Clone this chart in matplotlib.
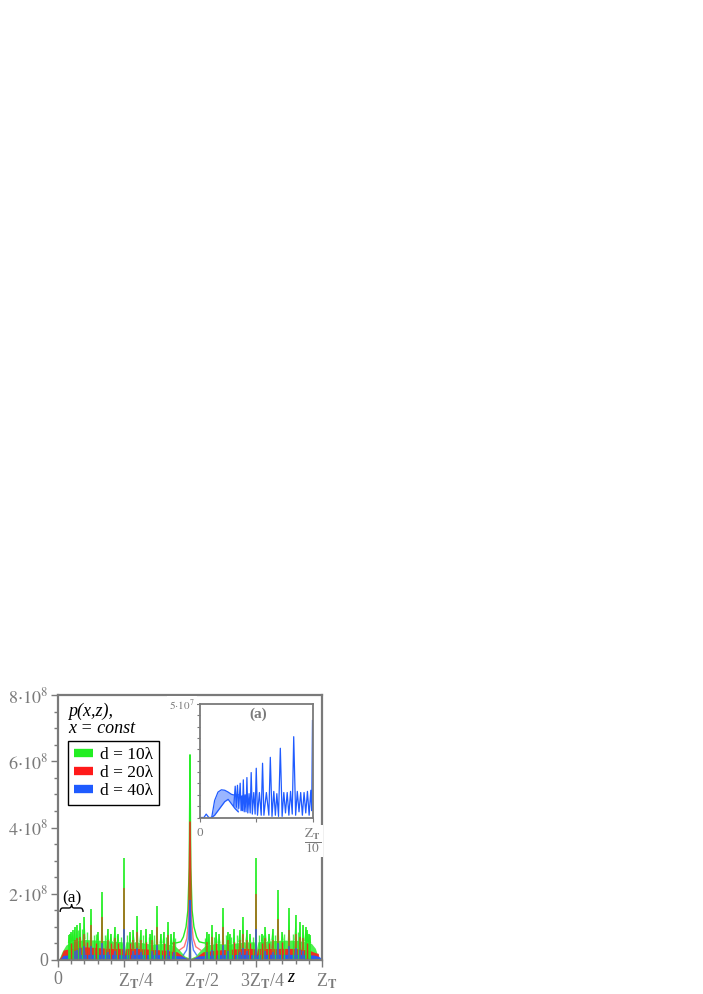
import numpy as np
import matplotlib.pyplot as plt
from matplotlib.lines import Line2D
from matplotlib.path import Path
from matplotlib.patches import PathPatch
from matplotlib.ticker import MultipleLocator

plt.rcParams['font.family'] = ['Liberation Serif', 'DejaVu Serif']
plt.rcParams['mathtext.fontset'] = 'stix'

GRAY = '#7a7a7a'
GREEN = '#22ee22'
RED = '#ff1a1a'
BLUE = '#1f5bff'

# main plot: z in units of Z_T, p in units of 1e8
# d = 10 lambda
g_peak_z = [0.0417, 0.0455, 0.05, 0.0556, 0.0625, 0.0714, 0.0833, 0.1, 0.125, 0.15,
            0.1667, 0.1875, 0.2, 0.2143, 0.2273, 0.25, 0.2727, 0.2857, 0.3, 0.3125,
            0.3333, 0.35, 0.3571, 0.375, 0.3889, 0.4, 0.4167, 0.4286, 0.4375, 0.5,
            0.5625, 0.5714, 0.5833, 0.6, 0.6111, 0.625, 0.6429, 0.65, 0.6667, 0.6875,
            0.7, 0.7143, 0.7273, 0.75, 0.7727, 0.7857, 0.8, 0.8125, 0.8333, 0.85,
            0.875, 0.9, 0.9167, 0.9286, 0.9375, 0.9444, 0.95, 0.9545]
g_peak_p = [0.75, 0.8, 0.85, 0.9, 1.0, 1.05, 1.12, 1.3, 1.53, 0.85,
            2.06, 0.95, 0.8, 1.0, 0.8, 3.07, 0.85, 0.9, 1.33, 0.9,
            0.95, 0.8, 0.9, 1.63, 0.8, 0.85, 1.15, 0.8, 0.85, 6.2,
            0.85, 0.8, 1.06, 0.85, 0.8, 1.58, 0.85, 0.8, 0.95, 0.9,
            1.29, 0.9, 0.8, 3.07, 0.8, 1.0, 0.8, 0.95, 2.1, 0.85,
            1.58, 1.36, 1.15, 1.05, 1.0, 0.9, 0.8, 0.75]
g_minor_z = [0.0769, 0.0909, 0.1111, 0.1364, 0.1429, 0.1765, 0.2222, 0.2381, 0.2619, 0.3214,
             0.3462, 0.3636, 0.4091, 0.4444, 0.5556, 0.5909, 0.6364, 0.6538, 0.6786, 0.7381,
             0.7619, 0.7778, 0.8235, 0.8571, 0.8889, 0.9091]
g_minor_p = [0.9, 0.95, 0.85, 0.75, 0.8, 0.75, 0.75, 0.7, 0.75, 0.75,
             0.7, 0.75, 0.7, 0.65, 0.65, 0.7, 0.75, 0.7, 0.75, 0.7,
             0.75, 0.75, 0.75, 0.8, 0.8, 0.85]
g_band_z = [0, 0.005, 0.015, 0.03, 0.05, 0.1, 0.15, 0.2, 0.243, 0.25,
            0.257, 0.3, 0.35, 0.4, 0.44, 0.46, 0.48, 0.5, 0.52, 0.54,
            0.56, 0.6, 0.65, 0.7, 0.743, 0.75, 0.757, 0.8, 0.85, 0.9,
            0.94, 0.96, 0.975, 0.985, 0.99, 1.0]
g_band_p = [0, 0.05, 0.25, 0.45, 0.55, 0.62, 0.6, 0.58, 0.55, 0.2,
            0.55, 0.55, 0.48, 0.5, 0.45, 0.3, 0.12, 0.05, 0.12, 0.3,
            0.45, 0.5, 0.48, 0.55, 0.55, 0.2, 0.55, 0.58, 0.6, 0.6,
            0.55, 0.5, 0.35, 0.1, 0.0, 0.0]
g_flank_z = [0.43, 0.45, 0.465, 0.475, 0.485, 0.492, 0.497, 0.5, 0.503, 0.508, 0.515, 0.525, 0.535, 0.55, 0.57]
g_flank_p = [0.5, 0.52, 0.55, 0.7, 1.0, 1.5, 2.8, 6.2, 2.8, 1.5, 1.0, 0.7, 0.55, 0.52, 0.5]

# d = 20 lambda
r_peak_z = [0.0625, 0.0714, 0.0833, 0.1, 0.125, 0.1667, 0.1875, 0.2143, 0.25, 0.2857,
            0.3, 0.3125, 0.3571, 0.375, 0.4167, 0.4375, 0.5, 0.5625, 0.5833, 0.625,
            0.6429, 0.6875, 0.7, 0.7143, 0.75, 0.7857, 0.8125, 0.8333, 0.875, 0.9,
            0.9167, 0.9286]
r_peak_p = [0.6, 0.65, 0.7, 0.8, 1.05, 1.31, 0.6, 0.65, 2.16, 0.6,
            0.85, 0.6, 0.6, 1.0, 0.75, 0.55, 4.18, 0.55, 0.7, 1.0,
            0.6, 0.6, 0.8, 0.6, 2.0, 0.65, 0.6, 1.25, 0.9, 0.8,
            0.7, 0.65]
r_minor_z = [0.05, 0.1111, 0.1429, 0.2, 0.2273, 0.2727, 0.3333, 0.4, 0.6, 0.6667,
             0.7273, 0.7727, 0.8, 0.85, 0.9444]
r_minor_p = [0.5, 0.55, 0.5, 0.5, 0.5, 0.5, 0.55, 0.5, 0.5, 0.55,
             0.5, 0.5, 0.5, 0.55, 0.5]
r_band_z = [0, 0.01, 0.02, 0.05, 0.1, 0.2, 0.243, 0.25, 0.257, 0.3,
            0.4, 0.45, 0.48, 0.5, 0.52, 0.55, 0.6, 0.7, 0.743, 0.75,
            0.757, 0.8, 0.9, 0.95, 0.975, 0.986, 0.99, 1.0]
r_band_p = [0, 0.1, 0.3, 0.35, 0.4, 0.35, 0.35, 0.1, 0.35, 0.35,
            0.3, 0.25, 0.08, 0.03, 0.08, 0.25, 0.3, 0.35, 0.35, 0.1,
            0.35, 0.35, 0.35, 0.3, 0.22, 0.2, 0.0, 0.0]
r_flank_z = [0.46, 0.478, 0.488, 0.494, 0.5, 0.506, 0.512, 0.522, 0.54]
r_flank_p = [0.3, 0.4, 0.65, 1.2, 4.18, 1.2, 0.65, 0.4, 0.3]

# d = 40 lambda
b_peak_z = [0.0625, 0.0714, 0.0833, 0.1, 0.125, 0.1667, 0.1875, 0.2143, 0.25, 0.2857,
            0.3, 0.3125, 0.3571, 0.375, 0.4167, 0.4375, 0.5, 0.5625, 0.5833, 0.625,
            0.6429, 0.6875, 0.7, 0.7143, 0.75, 0.7857, 0.8125, 0.8333, 0.875, 0.9,
            0.9167, 0.9286]
b_peak_p = [0.28, 0.3, 0.36, 0.43, 0.42, 0.5, 0.25, 0.28, 0.95, 0.28,
            0.35, 0.25, 0.28, 0.45, 0.3, 0.25, 1.8, 0.25, 0.3, 0.45,
            0.28, 0.25, 0.35, 0.28, 0.95, 0.28, 0.25, 0.5, 0.42, 0.35,
            0.3, 0.28]
b_band_z = [0, 0.01, 0.02, 0.05, 0.1, 0.2, 0.245, 0.25, 0.255, 0.3,
            0.4, 0.47, 0.49, 0.5, 0.51, 0.53, 0.6, 0.7, 0.745, 0.75,
            0.755, 0.8, 0.9, 0.97, 0.99, 1.0]
b_band_p = [0, 0.05, 0.14, 0.16, 0.17, 0.17, 0.16, 0.02, 0.16, 0.17,
            0.16, 0.12, 0.04, 0.0, 0.04, 0.12, 0.16, 0.17, 0.16, 0.02,
            0.16, 0.17, 0.17, 0.15, 0.1, 0.03]
b_flank_z = [0.475, 0.487, 0.494, 0.5, 0.506, 0.513, 0.525]
b_flank_p = [0.15, 0.3, 0.65, 1.8, 0.65, 0.3, 0.15]

# inset (a): d = 40 lambda, z from 0 to Z_T/10, p in units of 1e7
ins_start_z = [0, 0.0035, 0.0055, 0.0078, 0.0104]
ins_start_p = [0, 0, 0.15, 0.0, 0.0]
ins_hump_z = [0.0104, 0.013, 0.016, 0.019, 0.022, 0.025, 0.028, 0.031, 0.034]
ins_hump_top = [0.0, 0.75, 1.12, 1.22, 1.2, 1.12, 1.02, 0.98, 1.0]
ins_hump_bot = [0.0, 0.1, 0.3, 0.5, 0.7, 0.8, 0.6, 0.4, 0.25]
ins_osc_z = [0.03, 0.0313, 0.0323, 0.0333, 0.0345, 0.0357, 0.0365, 0.0372, 0.0378, 0.0385,
             0.0393, 0.0401, 0.0409, 0.0417, 0.0425, 0.0436, 0.0446, 0.0455, 0.0465, 0.0478,
             0.049, 0.05, 0.0511, 0.0528, 0.0544, 0.0556, 0.0568, 0.059, 0.0612, 0.0625,
             0.064, 0.0656, 0.067, 0.0683, 0.0698, 0.0714, 0.073, 0.0745, 0.076, 0.0775,
             0.079, 0.0805, 0.082, 0.0833, 0.085, 0.0865, 0.088, 0.0895, 0.091, 0.0925,
             0.094, 0.0955, 0.097, 0.0985, 0.0993, 0.1]
ins_osc_p = [0.5, 1.38, 0.45, 1.42, 0.4, 1.51, 0.3, 0.95, 0.3, 1.66,
             0.25, 1.0, 0.25, 1.76, 0.2, 1.05, 0.2, 1.98, 0.15, 1.1,
             0.15, 2.17, 0.1, 1.1, 0.1, 2.39, 0.1, 1.1, 0.1, 2.65,
             0.05, 1.15, 0.1, 1.05, 0.05, 3.05, 0.05, 1.1, 0.2, 1.1,
             0.1, 1.15, 0.15, 3.56, 0.1, 1.15, 0.25, 1.1, 0.1, 1.1,
             0.2, 1.15, 0.1, 1.2, 0.3, 4.27]

legend_labels = ['d = 10λ', 'd = 20λ', 'd = 40λ']
x_ticks = [0, 0.25, 0.5, 0.75, 1.0]
x_labels = ['0', 'Z$_\\mathbf{T}$/4', 'Z$_\\mathbf{T}$/2', '3Z$_\\mathbf{T}$/4', 'Z$_\\mathbf{T}$']
x_label_dx = [0, -4.3, -4.3, -11.5, -4.3]
y_ticks = [0, 2, 4, 6, 8]
y_labels = ['0', '$2{\\cdot}10^{8}$', '$4{\\cdot}10^{8}$', '$6{\\cdot}10^{8}$', '$8{\\cdot}10^{8}$']
brace_span = [0.008, 0.095]

fig = plt.figure(figsize=(7.03, 9.94), dpi=100)
ax = fig.add_axes([58 / 703, 34 / 994, 264 / 703, 265 / 994])
ax.set_xlim(0, 1)
ax.set_ylim(0, 8)

half_w = 0.0045
series = [
    (g_band_z, g_band_p, g_peak_z, g_peak_p, g_minor_z, g_minor_p, g_flank_z, g_flank_p, GREEN, 0.8, 1.0),
    (r_band_z, r_band_p, r_peak_z, r_peak_p, r_minor_z, r_minor_p, r_flank_z, r_flank_p, RED, 0.9, 0.6),
    (b_band_z, b_band_p, b_peak_z, b_peak_p, [], [], b_flank_z, b_flank_p, BLUE, 0.95, 0.75),
]
for bz, bp, pz, pp, mz, mp, fz, fp, col, band_a, spike_a in series:
    ax.fill_between(bz, 0, bp, color=col, alpha=band_a, lw=0)
    base = np.interp(pz, bz, bp)
    for z, p, b in zip(pz, pp, base):
        ax.fill([z - half_w, z, z + half_w], [b, p, b], color=col, alpha=spike_a, lw=0)
    ax.vlines(pz, 0, pp, color=col, alpha=spike_a, lw=1.2)
    if mz:
        ax.vlines(mz, 0, mp, color=col, alpha=band_a, lw=1.0)
    ax.plot(fz, fp, color=col, alpha=spike_a, lw=1.0)

for s in ax.spines.values():
    s.set_color(GRAY)
    s.set_linewidth(1.6)
ax.set_xticks(x_ticks)
ax.set_xticklabels([])
ax.set_yticks(y_ticks)
ax.set_yticklabels(y_labels)
ax.xaxis.set_minor_locator(MultipleLocator(0.05))
ax.yaxis.set_minor_locator(MultipleLocator(0.5))
ax.tick_params(which='both', direction='out', color=GRAY, labelcolor=GRAY, labelsize=13, width=1.0)
ax.tick_params(which='major', length=5)
ax.tick_params(which='minor', length=3)
ax.tick_params(axis='y', pad=2)
for z, lab, dx in zip(x_ticks, x_labels, x_label_dx):
    ax.annotate(lab, xy=(z, 0), xycoords=('data', 'axes fraction'), xytext=(dx, -8),
                textcoords='offset points', ha='center' if dx == 0 else 'left', va='top',
                fontsize=13, color=GRAY)

ax.text(0.038, 0.921, 'p(x,z),', transform=ax.transAxes, style='italic', fontsize=13)
ax.text(0.038, 0.857, 'x = const', transform=ax.transAxes, style='italic', fontsize=13)
ax.text(0.882, -0.083, 'z', transform=ax.get_xaxis_transform(), style='italic',
        fontsize=13, ha='center', va='baseline')

handles = [Line2D([], [], color=c, lw=6, solid_capstyle='butt') for c in (GREEN, RED, BLUE)]
leg = ax.legend(handles, legend_labels, loc='upper left', bbox_to_anchor=(0.038, 0.826),
                fontsize=12.5, handlelength=1.1, handletextpad=0.4, borderpad=0.35,
                labelspacing=0.1, borderaxespad=0, fancybox=False, framealpha=1)
leg.get_frame().set_edgecolor('black')
leg.get_frame().set_linewidth(1.0)

# brace over the inset range
x0, x1 = brace_span
xm = (x0 + x1) / 2
yb, ymid, yt = 1.45, 1.57, 1.68
verts = [(x0, yb), (x0, ymid), (x0 + 0.01, ymid), (xm - 0.01, ymid), (xm, ymid), (xm, yt),
         (xm, ymid), (xm + 0.01, ymid), (x1 - 0.01, ymid), (x1, ymid), (x1, yb)]
codes = [Path.MOVETO, Path.CURVE3, Path.CURVE3, Path.LINETO, Path.CURVE3, Path.CURVE3,
         Path.CURVE3, Path.CURVE3, Path.LINETO, Path.CURVE3, Path.CURVE3]
ax.add_patch(PathPatch(Path(verts, codes), fill=False, lw=1.0, color='black'))
ax.text(xm, 1.74, '(a)', fontsize=12.5, ha='center', va='baseline')

# inset
axi = fig.add_axes([200 / 703, (994 - 817.5) / 994, 112.5 / 703, 113.5 / 994])
axi.set_xlim(0, 0.1)
axi.set_ylim(0, 5)
axi.plot(ins_start_z, ins_start_p, color=BLUE, lw=0.9)
axi.fill_between(ins_hump_z, ins_hump_bot, ins_hump_top, color=BLUE, alpha=0.45, lw=0)
axi.plot(ins_hump_z, ins_hump_top, color=BLUE, lw=0.9)
axi.plot(ins_hump_z, ins_hump_bot, color=BLUE, lw=0.9)
axi.plot(ins_osc_z, ins_osc_p, color=BLUE, lw=0.9)
for s in axi.spines.values():
    s.set_color(GRAY)
    s.set_linewidth(1.3)
axi.set_xticks([0, 0.05, 0.1])
axi.set_xticklabels(['0', '', '$\\dfrac{\\mathrm{Z}_{\\mathbf{T}}}{10}$'])
axi.set_yticks([5])
axi.set_yticklabels(['$5{\\cdot}10^{7}$'])
axi.yaxis.set_minor_locator(MultipleLocator(0.5))
axi.tick_params(which='both', direction='out', color=GRAY, labelcolor=GRAY, width=0.8)
axi.tick_params(which='major', length=3)
axi.tick_params(which='minor', length=2)
axi.tick_params(axis='y', labelsize=8, pad=1)
axi.tick_params(axis='x', labelsize=9.5, pad=4)
for lab in axi.get_xticklabels() + axi.get_yticklabels():
    lab.set_bbox(dict(facecolor='white', edgecolor='none', pad=1.5))
axi.text(0.52, 0.91, '(a)', transform=axi.transAxes, fontsize=11, fontweight='bold',
         color=GRAY, ha='center', va='center')

fig.savefig('out.png', dpi=100)
